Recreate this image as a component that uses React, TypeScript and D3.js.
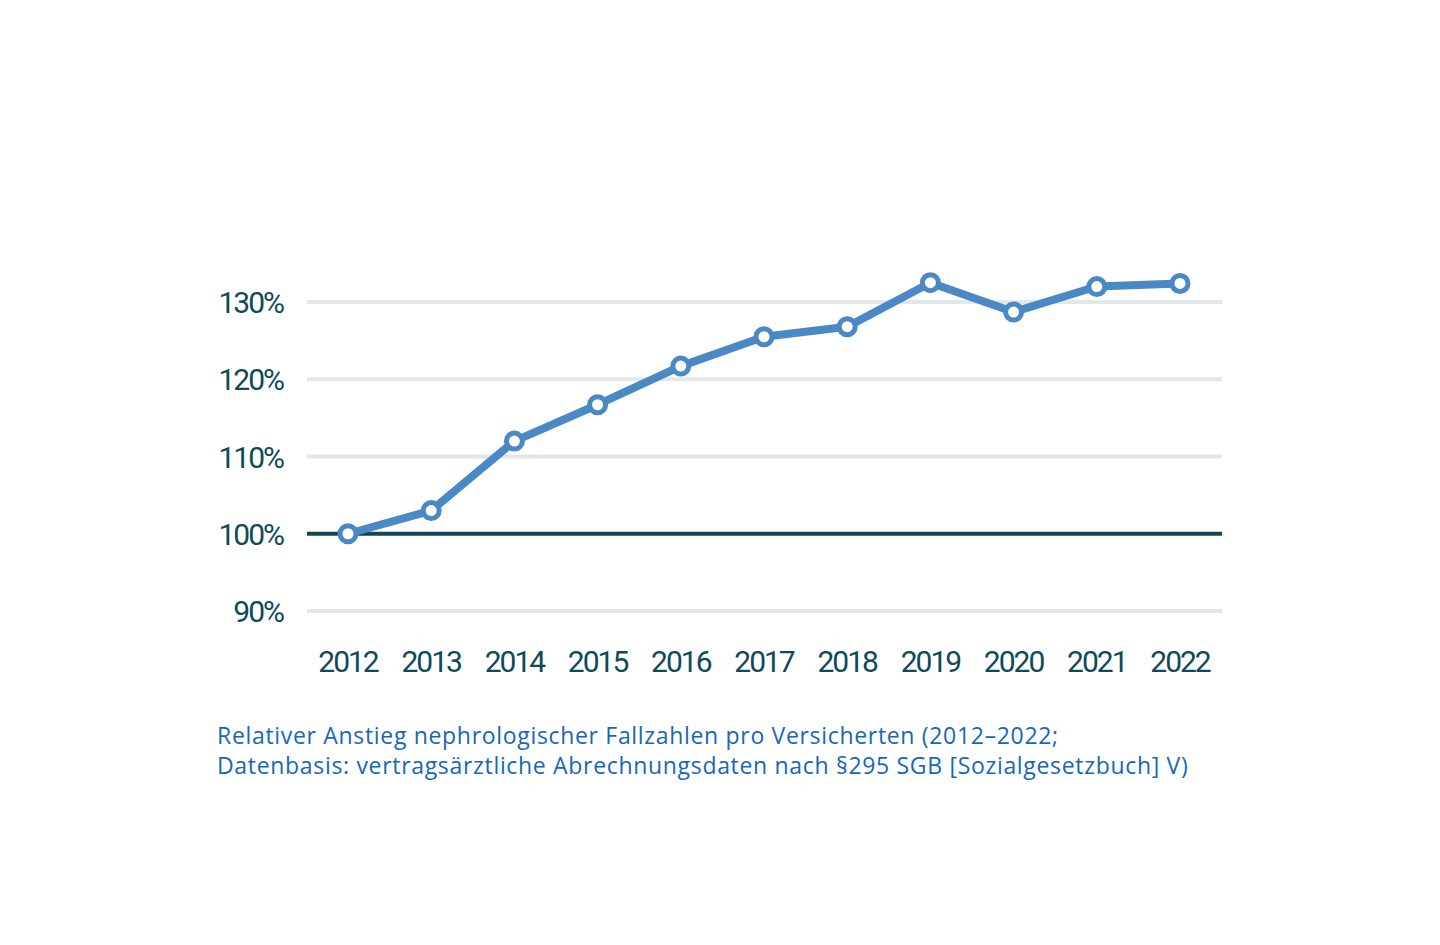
import { useEffect, useRef } from 'react'
import * as d3 from 'd3'

const YEARS = ['2012', '2013', '2014', '2015', '2016', '2017', '2018', '2019', '2020', '2021', '2022']
const VALUES = [100, 103, 112, 116.7, 121.7, 125.5, 126.8, 132.5, 128.7, 132, 132.4]
const Y_TICKS = [90, 100, 110, 120, 130]
const CAPTION = [
  'Relativer Anstieg nephrologischer Fallzahlen pro Versicherten (2012–2022;',
  'Datenbasis: vertragsärztliche Abrechnungsdaten nach §295 SGB [Sozialgesetzbuch] V)',
]

const WIDTH = 1440
const HEIGHT = 945
const PLOT = { left: 307, right: 1222, top: 302, bottom: 611 }
const TEXT_COLOR = '#0e4a57'
const LINE_COLOR = '#4a88c6'

export default function App() {
  const svgRef = useRef<SVGSVGElement>(null)

  useEffect(() => {
    const svg = d3.select(svgRef.current)
    svg.selectAll('*').remove()

    // ── Scales ──────────────────────────────────────────────────────────────
    const x = d3.scalePoint<string>(YEARS, [348, 1180])
    const y = d3.scaleLinear([90, 130], [PLOT.bottom, PLOT.top])

    // ── Grid ────────────────────────────────────────────────────────────────
    Y_TICKS.forEach(t => {
      svg.append('line')
        .attr('x1', PLOT.left).attr('x2', PLOT.right)
        .attr('y1', y(t)).attr('y2', y(t))
        .attr('stroke', t === 100 ? '#0d4853' : '#e3e7e7')
        .attr('stroke-width', 4)
    })

    // ── Axis labels ─────────────────────────────────────────────────────────
    Y_TICKS.forEach(t => {
      svg.append('text')
        .attr('x', 283).attr('y', y(t) + 11)
        .attr('text-anchor', 'end')
        .attr('font-family', 'Roboto').attr('font-weight', 400)
        .attr('font-size', 30).attr('letter-spacing', -2)
        .attr('fill', TEXT_COLOR)
        .text(`${t}%`)
    })

    YEARS.forEach(yr => {
      svg.append('text')
        .attr('x', x(yr)!).attr('y', 672)
        .attr('text-anchor', 'middle')
        .attr('font-family', 'Roboto').attr('font-weight', 400)
        .attr('font-size', 30).attr('letter-spacing', -2)
        .attr('fill', TEXT_COLOR)
        .text(yr)
    })

    // ── Line + markers ──────────────────────────────────────────────────────
    const pts = YEARS.map((yr, i) => [x(yr)!, y(VALUES[i])] as [number, number])
    svg.append('path')
      .attr('d', d3.line()(pts) ?? '')
      .attr('fill', 'none').attr('stroke', LINE_COLOR)
      .attr('stroke-width', 8).attr('stroke-linejoin', 'round')

    svg.selectAll('circle.pt')
      .data(pts)
      .join('circle')
      .attr('class', 'pt')
      .attr('cx', d => d[0]).attr('cy', d => d[1])
      .attr('r', 8)
      .attr('fill', '#fff').attr('stroke', LINE_COLOR).attr('stroke-width', 5)

    // ── Caption ─────────────────────────────────────────────────────────────
    CAPTION.forEach((line, i) => {
      svg.append('text')
        .attr('x', 217).attr('y', 744 + i * 30)
        .attr('font-family', 'Open Sans').attr('font-size', 23)
        .attr('letter-spacing', 0.68)
        .attr('fill', '#1767b8')
        .text(line)
    })
  }, [])

  return (
    <svg
      ref={svgRef}
      width={WIDTH}
      height={HEIGHT}
      style={{ position: 'absolute', left: 0, top: 0, background: '#fff' }}
    />
  )
}
